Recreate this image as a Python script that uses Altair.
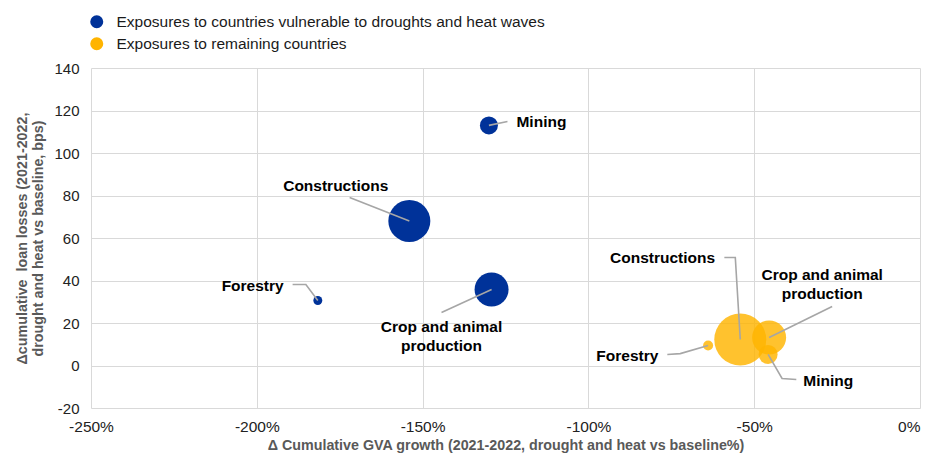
import altair as alt
import pandas as pd

# ---- data ----
groups = ["Exposures to countries vulnerable to droughts and heat waves"] * 4 + ["Exposures to remaining countries"] * 4
sectors = ["Mining", "Constructions", "Forestry", "Crop and animal production",
           "Constructions", "Crop and animal production", "Mining", "Forestry"]
gva = [-130.0, -154.0, -181.6, -129.2, -54.2, -45.5, -45.8, -63.9]
loss = [113.0, 68.0, 30.6, 35.8, 12.2, 13.2, 5.2, 9.4]
exposure = [81, 441, 20, 289, 676, 289, 90, 25]

# label anchors (data units) and leader-line elbows
label_text = ["Mining", "Constructions", "Forestry", "Crop and animal\nproduction",
              "Constructions", "Crop and animal\nproduction", "Mining", "Forestry"]
label_x = [-121.7, -176.2, -191.9, -144.3, -61.8, -29.5, -35.2, -78.9]
label_y = [114.4, 84.7, 37.6, 17.9, 50.8, 42.4, -7.1, 4.7]
label_align = ["left", "center", "right", "center", "right", "center", "left", "right"]
# leader lines: list of (x, y) points from label end to bubble centre
leader_pts = [
    [(-124.4, 114.8)],
    [(-172.0, 79.1)],
    [(-189.2, 38.1), (-185.2, 38.1)],
    [(-144.3, 24.9)],
    [(-59.0, 50.8), (-55.7, 50.8)],
    [(-26.5, 27.8)],
    [(-37.3, -6.6), (-41.6, -6.1)],
    [(-76.2, 5.2), (-72.3, 5.6)],
]

blue = "#003299"
yellow = "#FFB400"
font = "Liberation Sans"

pts = pd.DataFrame({"group": groups, "sector": sectors, "gva": gva, "loss": loss, "exposure": exposure})
pts = pts.sort_values("exposure", ascending=False)

labels = pd.DataFrame({"text": label_text, "lx": label_x, "ly": label_y, "align": label_align})

rows = []
for i, seq in enumerate(leader_pts):
    k = 0
    for (x, y) in seq:
        rows.append({"id": i, "k": k, "x": x, "y": y}); k += 1
    rows.append({"id": i, "k": k, "x": gva[i], "y": loss[i]})
lines = pd.DataFrame(rows)

xscale = alt.Scale(domain=[-250, 0], nice=False)
yscale = alt.Scale(domain=[-20, 140], nice=False)

bubbles = alt.Chart(pts).mark_circle().encode(
    x=alt.X("gva:Q", scale=xscale,
            axis=alt.Axis(values=[-250, -200, -150, -100, -50, 0], labelExpr="toString(datum.value) + '%'",
                          title="Δ Cumulative GVA growth (2021-2022, drought and heat vs baseline%)",
                          grid=True, ticks=False, domain=False, labelFlush=False,
                          labelAlign={"condition": {"test": "datum.value == 0", "value": "right"}, "value": "center"},
                          labelPadding=11, titlePadding=4, labelFontSize=15.5)),
    y=alt.Y("loss:Q", scale=yscale,
            axis=alt.Axis(values=list(range(-20, 141, 20)), labelExpr="toString(datum.value)",
                          title=["Δcumulative\u00a0\u00a0loan losses (2021-2022,", "drought and heat vs baseline, bps)"],
                          grid=True, ticks=False, domain=False, labelPadding=12, titlePadding=8)),
    size=alt.Size("exposure:Q", scale=alt.Scale(type="linear", domain=[0, 676], range=[0, 2704]), legend=None),
    color=alt.Color("group:N",
                    scale=alt.Scale(domain=["Exposures to countries vulnerable to droughts and heat waves",
                                            "Exposures to remaining countries"], range=[blue, yellow]),
                    legend=alt.Legend(title=None, orient="none", legendX=-2, legendY=-54,
                                      symbolType="circle", symbolSize=170, symbolOpacity=1,
                                      labelFontSize=15.5, labelFont=font, labelColor="#1a1a1a",
                                      labelLimit=0, labelOffset=12, rowPadding=5)),
    opacity=alt.condition("datum.group == 'Exposures to remaining countries'", alt.value(0.82), alt.value(1)),
)

leaders = alt.Chart(lines).mark_line(color="#a6a6a6", strokeWidth=1.6).encode(
    x=alt.X("x:Q", scale=xscale),
    y=alt.Y("y:Q", scale=yscale),
    detail="id:N",
    order="k:Q",
)

def text_layer(a):
    return alt.Chart(labels).transform_filter(f"datum.align == '{a}'").mark_text(
        align=a, baseline="middle", font=font, fontSize=15.5, fontWeight="bold",
        color="#000000", lineBreak="\n", lineHeight=19
    ).encode(x=alt.X("lx:Q", scale=xscale), y=alt.Y("ly:Q", scale=yscale), text="text:N")

chart = alt.layer(bubbles, leaders, text_layer("left"), text_layer("center"), text_layer("right")).properties(
    width=829, height=340,
    autosize=alt.AutoSizeParams(type="none"),
    padding={"left": 83, "top": 60, "right": 5, "bottom": 47},
).configure_view(stroke=None).configure_axis(
    gridColor="#d9d9d9", gridWidth=1, labelFont=font, labelFontSize=15, labelColor="#222222",
    titleFont=font, titleFontSize=14.3, titleFontWeight="bold", titleColor="#595959",
)

chart.save("out.html", embed_options={"renderer": "svg", "actions": False})
